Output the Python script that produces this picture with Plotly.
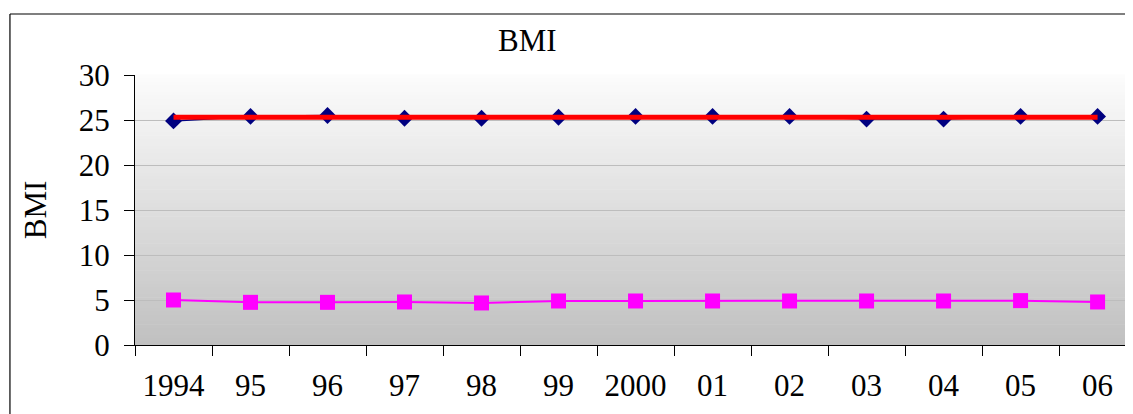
import plotly.graph_objects as go

years = ["1994", "95", "96", "97", "98", "99", "2000", "01", "02", "03", "04", "05", "06"]
bmi_mean = [24.9, 25.4, 25.5, 25.2, 25.2, 25.3, 25.4, 25.4, 25.4, 25.1, 25.1, 25.4, 25.4]
bmi_trend = [25.3] * 13
bmi_sd = [5.0, 4.74, 4.74, 4.78, 4.67, 4.89, 4.89, 4.89, 4.89, 4.89, 4.89, 4.93, 4.78]
y_ticks = [0, 5, 10, 15, 20, 25, 30]

FONT = "Liberation Serif, Times New Roman, serif"

fig = go.Figure()
fig.add_trace(go.Scatter(x=years, y=bmi_mean, mode="lines+markers",
                         line=dict(color="#000080", width=1.5),
                         marker=dict(symbol="diamond", size=13, color="#000080"),
                         showlegend=False))
fig.add_trace(go.Scatter(x=years, y=bmi_trend, mode="lines",
                         line=dict(color="#FF0000", width=5),
                         showlegend=False))
fig.add_trace(go.Scatter(x=years, y=bmi_sd, mode="lines+markers",
                         line=dict(color="#FF00FF", width=2),
                         marker=dict(symbol="square", size=15, color="#FF00FF"),
                         showlegend=False))

# vertical gradient background of the plot area
n = 80
top = (252, 252, 252)
bot = (192, 192, 192)
shapes = []
for i in range(n):
    f = (i + 0.5) / n
    c = tuple(int(round(bot[k] + (top[k] - bot[k]) * f)) for k in range(3))
    shapes.append(dict(type="rect", xref="x domain", yref="y domain",
                       x0=0, x1=1, y0=i / n, y1=(i + 1) / n + 0.002,
                       fillcolor="rgb(%d,%d,%d)" % c, line=dict(width=0),
                       layer="below"))
# outer chart border: top and left edges (the rest lies outside the view)
shapes.append(dict(type="line", xref="paper", yref="paper",
                   x0=-0.1253, x1=1.3, y0=1.2259, y1=1.2259,
                   line=dict(color="black", width=1.2), layer="above"))
shapes.append(dict(type="line", xref="paper", yref="paper",
                   x0=-0.1253, x1=-0.1253, y0=-0.6, y1=1.2259,
                   line=dict(color="black", width=1.2), layer="above"))

fig.update_layout(
    width=1125, height=406,
    margin=dict(l=127, r=0, t=67, b=69),
    paper_bgcolor="white", plot_bgcolor="rgba(0,0,0,0)",
    font=dict(family=FONT, size=31, color="black"),
    shapes=shapes,
    annotations=[dict(text="BMI", xref="paper", yref="paper", x=0.3928, y=1.1296,
                      showarrow=False, font=dict(size=31, family=FONT),
                      xanchor="center", yanchor="middle")],
    xaxis=dict(type="category", range=[-0.5, 12.46], tickson="boundaries",
               ticks="outside", ticklen=10, tickcolor="black",
               showline=True, linecolor="black", linewidth=1,
               showgrid=False, zeroline=False, ticklabelstandoff=13),
    yaxis=dict(range=[0, 30], tickvals=y_ticks, ticks="outside", ticklen=10,
               tickcolor="black", showline=True, linecolor="black", linewidth=1,
               showgrid=True, gridcolor="#bdbdbd", gridwidth=1, zeroline=False,
               ticklabelstandoff=8,
               title=dict(text="BMI", standoff=22, font=dict(size=31))),
)

fig.write_html("out.html",
               post_script="document.documentElement.style.overflow='hidden';"
                           "document.body.style.overflow='hidden';")
